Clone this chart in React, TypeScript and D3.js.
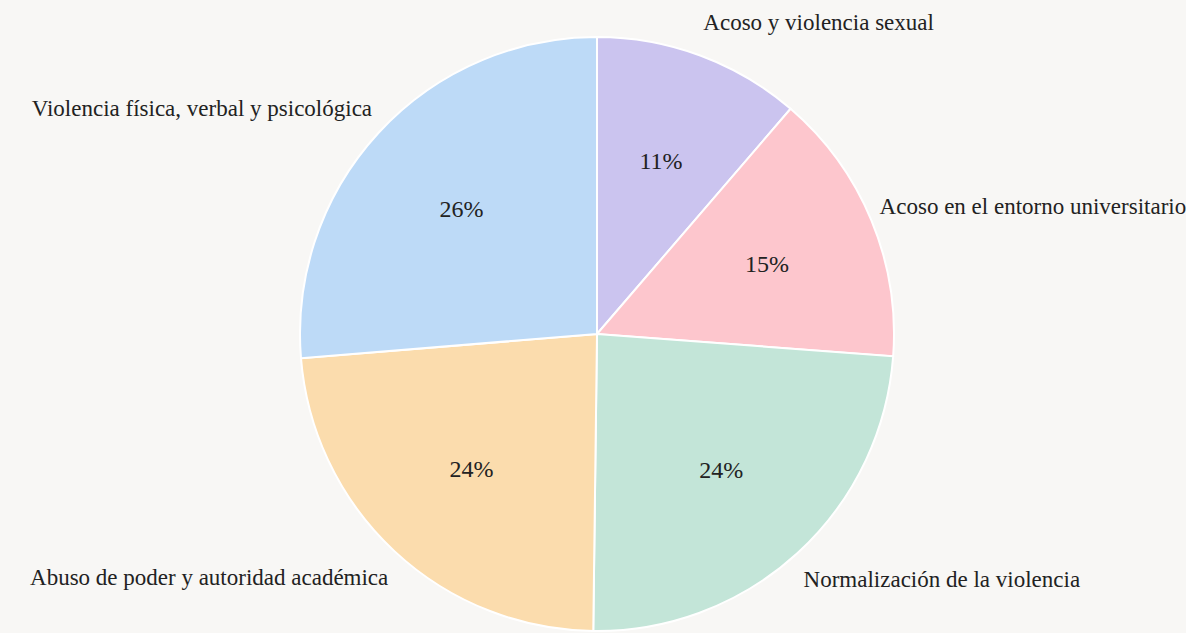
import React from "react";
import * as d3 from "d3";

const categories = [
  "Acoso y violencia sexual",
  "Acoso en el entorno universitario",
  "Normalización de la violencia",
  "Abuso de poder y autoridad académica",
  "Violencia física, verbal y psicológica",
];
const values = [11.3, 14.9, 24.0, 23.5, 26.3];
const colors = ["#cbc4ef", "#fdc6cd", "#c3e5d8", "#fbdcad", "#bddaf7"];

const W = 1186;
const H = 633;
const cx = 597;
const cy = 334;
const R = 297;
const FONT = "'Liberation Serif', 'Times New Roman', serif";

export default function App() {
  const pie = d3.pie<number>().sort(null).value((d) => d);
  const arcs = pie(values);
  const arc = d3.arc<d3.PieArcDatum<number>>().innerRadius(0).outerRadius(R);
  const inner = d3.arc<d3.PieArcDatum<number>>().innerRadius(R * 0.62).outerRadius(R * 0.62);
  const rx = R * 1.03;
  const ry = R * 1.12;
  return (
    <div style={{ position: "fixed", left: 0, top: 0 }}>
      <svg width={W} height={H} style={{ display: "block", background: "#f8f7f5" }}>
        <g transform={`translate(${cx},${cy})`}>
          {arcs.map((a, i) => (
            <path key={i} d={arc(a) || ""} fill={colors[i]} stroke="#ffffff" strokeWidth={2} />
          ))}
          {arcs.map((a, i) => {
            const [x, y] = inner.centroid(a);
            return (
              <text key={"p" + i} x={x} y={y} textAnchor="middle" dominantBaseline="central"
                style={{ fontFamily: FONT }} fontSize={24} fill="#222">
                {Math.round(a.data) + "%"}
              </text>
            );
          })}
          {arcs.map((a, i) => {
            const mid = (a.startAngle + a.endAngle) / 2;
            const x = Math.sin(mid) * rx;
            const y = -Math.cos(mid) * ry;
            const right = mid < Math.PI;
            return (
              <text key={"l" + i} x={x} y={y} textAnchor={right ? "start" : "end"} dominantBaseline="central"
                style={{ fontFamily: FONT }} fontSize={23} fill="#222">
                {categories[i]}
              </text>
            );
          })}
        </g>
      </svg>
    </div>
  );
}
